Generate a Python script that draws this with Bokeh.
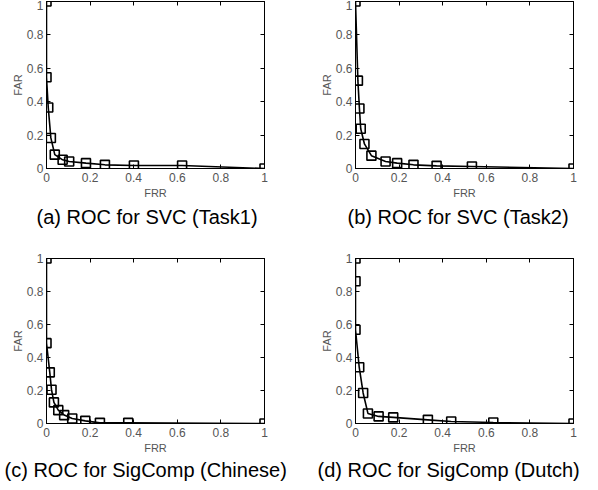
from bokeh.plotting import figure
from bokeh.layouts import gridplot
from bokeh.models import LinearAxis, FixedTicker, Range1d, Title
from bokeh.embed import file_html
from bokeh.resources import INLINE

# ---- data ----
frr_a = [0.0, 0.0, 0.008, 0.02, 0.038, 0.074, 0.104, 0.181, 0.268, 0.401, 0.622, 1.0]
far_a = [1.0, 0.546, 0.365, 0.183, 0.083, 0.052, 0.042, 0.032, 0.022, 0.018, 0.018, 0.0]

frr_b = [0.0, 0.011, 0.018, 0.024, 0.041, 0.073, 0.138, 0.191, 0.266, 0.372, 0.534, 1.0]
far_b = [1.0, 0.526, 0.359, 0.238, 0.147, 0.077, 0.042, 0.032, 0.022, 0.016, 0.012, 0.0]

frr_c = [0.0, 0.0, 0.015, 0.023, 0.034, 0.054, 0.081, 0.118, 0.178, 0.245, 0.375, 1.0]
far_c = [1.0, 0.487, 0.31, 0.205, 0.128, 0.081, 0.051, 0.030, 0.016, 0.004, 0.004, 0.0]

frr_d = [0.0, 0.0, 0.0, 0.017, 0.035, 0.057, 0.106, 0.173, 0.332, 0.439, 0.632, 1.0]
far_d = [1.0, 0.862, 0.568, 0.341, 0.185, 0.061, 0.043, 0.037, 0.022, 0.012, 0.006, 0.0]

tick_values = [0, 0.2, 0.4, 0.6, 0.8, 1]
tick_labels = {0: "0", 0.2: "0.2", 0.4: "0.4", 0.6: "0.6", 0.8: "0.8", 1: "1"}
captions = ["(a) ROC for SVC (Task1)", "(b) ROC for SVC (Task2)",
            "(c) ROC for SigComp (Chinese)", "(d) ROC for SigComp (Dutch)"]
x_label = "FRR"
y_label = "FAR"

FONT = "Liberation Sans"
TICK_COLOR = "#555555"

W = 291
H1, H2 = 245, 240
geom = [
    dict(h=H1, l=46, r=27, t=1, b=77, off=-10, st=4),
    dict(h=H1, l=64, r=9, t=1, b=77, off=-8, st=4),
    dict(h=H2, l=46, r=27, t=13, b=62, off=-42, st=0),
    dict(h=H2, l=64, r=9, t=13, b=62, off=-38, st=0),
]
datasets = [(frr_a, far_a), (frr_b, far_b), (frr_c, far_c), (frr_d, far_d)]


def style_axis(ax, show_labels):
    ax.ticker = FixedTicker(ticks=tick_values)
    ax.major_label_overrides = tick_labels
    ax.major_tick_in = 4
    ax.major_tick_out = 0
    ax.minor_tick_in = 0
    ax.minor_tick_out = 0
    ax.axis_line_color = "black"
    ax.major_tick_line_color = "black"
    ax.major_label_text_font = FONT
    ax.axis_label_text_font = FONT
    ax.axis_label_text_color = TICK_COLOR
    ax.axis_label_text_font_style = "normal"
    ax.axis_label_text_font_size = "11px"
    if show_labels:
        ax.major_label_text_font_size = "12px"
        ax.major_label_text_color = TICK_COLOR
    else:
        ax.major_label_text_font_size = "1px"
        ax.major_label_text_color = None
        ax.major_label_standoff = 0


figs = []
for i, ((xs, ys), g) in enumerate(zip(datasets, geom)):
    p = figure(width=W, height=g["h"], output_backend="svg", toolbar_location=None,
               x_range=Range1d(0, 1), y_range=Range1d(0, 1),
               min_border_left=g["l"], min_border_right=g["r"],
               min_border_top=g["t"], min_border_bottom=g["b"],
               x_axis_label=x_label, y_axis_label=y_label)
    p.grid.visible = False
    p.outline_line_color = "black"
    p.outline_line_width = 1
    p.background_fill_color = "white"
    p.border_fill_color = "white"

    style_axis(p.xaxis[0], True)
    style_axis(p.yaxis[0], True)
    p.xaxis[0].major_label_standoff = 4
    p.xaxis[0].axis_label_standoff = 2
    p.yaxis[0].major_label_standoff = 3
    p.yaxis[0].axis_label_standoff = 0

    top = LinearAxis()
    style_axis(top, False)
    p.add_layout(top, "above")
    right = LinearAxis()
    style_axis(right, False)
    p.add_layout(right, "right")

    p.line(xs, ys, line_color="black", line_width=1.6)
    p.scatter(xs, ys, marker="square", size=9, line_color="black", line_width=1.6,
              fill_alpha=0)

    p.add_layout(Title(text=captions[i], text_font=FONT, text_font_size="20px",
                       text_font_style="normal", text_color="black",
                       align="left", offset=g["off"], standoff=g["st"]), "below")
    figs.append(p)

grid = gridplot([[figs[0], figs[1]], [figs[2], figs[3]]], toolbar_location=None)

open("out.html", "w").write(file_html(grid, INLINE))
